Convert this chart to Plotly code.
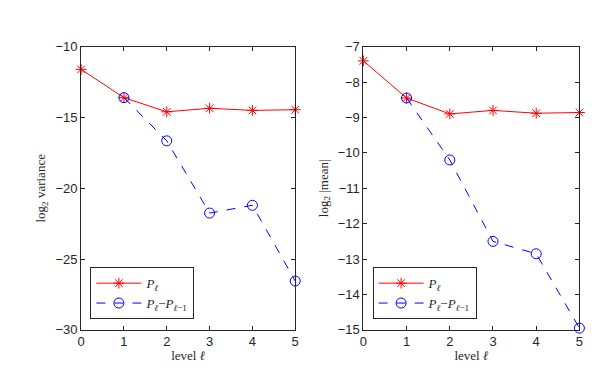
import plotly.graph_objects as go

levels = [0, 1, 2, 3, 4, 5]
levels_diff = [1, 2, 3, 4, 5]

var_p = [-11.6, -13.6, -14.6, -14.35, -14.5, -14.45]
var_diff = [-13.6, -16.65, -21.75, -21.2, -26.55]

mean_p = [-7.4, -8.45, -8.9, -8.8, -8.88, -8.86]
mean_diff = [-8.45, -10.2, -12.5, -12.85, -14.95]

lbl_p = "<i>P</i><sub><i>ℓ</i></sub>"
lbl_d = "<i>P</i><sub><i>ℓ</i></sub>−<i>P</i><sub><i>ℓ</i>−1</sub>"

fig = go.Figure()

red = dict(color="red", width=1)
blue = dict(color="blue", width=1, dash="dash")
star = dict(symbol="asterisk-open", size=9, color="red", line=dict(color="red", width=1))
circ = dict(symbol="circle-open", size=10, color="blue", line=dict(color="blue", width=1))

fig.add_trace(go.Scatter(x=levels, y=var_p, mode="lines+markers", line=red, marker=star,
                         name=lbl_p, xaxis="x", yaxis="y", legend="legend", cliponaxis=False))
fig.add_trace(go.Scatter(x=levels_diff, y=var_diff, mode="lines+markers", line=blue, marker=circ,
                         name=lbl_d, xaxis="x", yaxis="y", legend="legend", cliponaxis=False))
fig.add_trace(go.Scatter(x=levels, y=mean_p, mode="lines+markers", line=red, marker=star,
                         name=lbl_p, xaxis="x2", yaxis="y2", legend="legend2", cliponaxis=False))
fig.add_trace(go.Scatter(x=levels_diff, y=mean_diff, mode="lines+markers", line=blue, marker=circ,
                         name=lbl_d, xaxis="x2", yaxis="y2", legend="legend2", cliponaxis=False))

tickfont = dict(family="Liberation Sans", size=13, color="#262626")
titlefont = dict(family="Liberation Serif, Times New Roman", size=13, color="#262626")

ax = dict(showgrid=False, zeroline=False, ticks="inside", ticklen=4, tickcolor="#262626",
          showline=True, linecolor="#262626", linewidth=1, mirror="allticks", tickfont=tickfont)

legend_style = dict(bgcolor="white", bordercolor="#262626", borderwidth=1,
                    font=dict(family="Liberation Serif, Times New Roman", size=13, color="#262626"),
                    xanchor="left", yanchor="bottom", tracegroupgap=0, itemwidth=45)

fig.update_layout(
    width=611, height=375,
    margin=dict(l=0, r=0, t=0, b=0),
    paper_bgcolor="white", plot_bgcolor="white",
    xaxis=dict(ax, domain=[0.1146, 0.4697], range=[0, 5], dtick=1,
               title=dict(text="level <i>ℓ</i>", font=titlefont, standoff=2)),
    yaxis=dict(ax, domain=[0.1253, 0.912], range=[-30, -10], dtick=5,
               title=dict(text="log<sub>2</sub> variance", font=titlefont, standoff=6)),
    xaxis2=dict(ax, domain=[0.5827, 0.941], range=[0, 5], dtick=1, anchor="y2",
                title=dict(text="level <i>ℓ</i>", font=titlefont, standoff=2)),
    yaxis2=dict(ax, domain=[0.1253, 0.912], range=[-15, -7], dtick=1, anchor="x2",
                title=dict(text="log<sub>2</sub> |mean|", font=titlefont, standoff=6)),
    legend=dict(legend_style, x=0.13, y=0.155),
    legend2=dict(legend_style, x=0.598, y=0.155),
)

fig.write_html("out.html")
